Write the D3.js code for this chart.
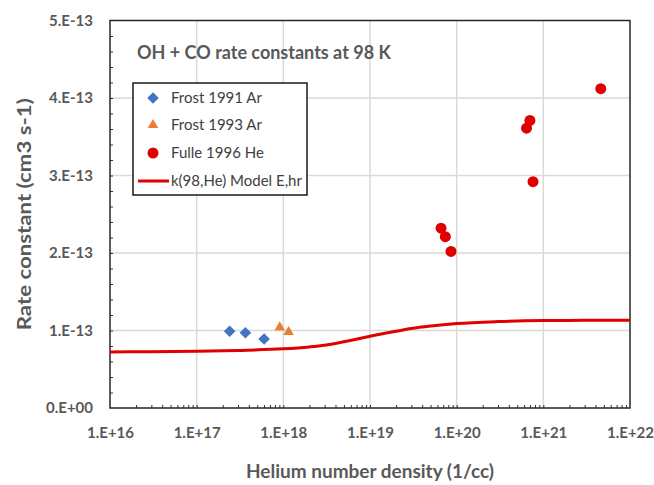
<!DOCTYPE html>
<html>
<head>
<meta charset="utf-8">
<script src="https://cdn.jsdelivr.net/npm/d3@7"></script>
<style>
  body { margin: 0; background: #fff; }
  svg { display: block; font-family: Lato, 'Open Sans', sans-serif; }
</style>
</head>
<body>
<script>
// data
const frost1991X = [2.4e17, 3.65e17, 6.0e17]
const frost1991Y = [0.99e-13, 0.97e-13, 0.89e-13]
const frost1993X = [9.1e17, 1.15e18]
const frost1993Y = [1.04e-13, 0.98e-13]
const fulleX = [6.6e19, 7.4e19, 8.6e19, 6.4e20, 7.0e20, 7.6e20, 4.6e21]
const fulleY = [2.32e-13, 2.21e-13, 2.02e-13, 3.61e-13, 3.71e-13, 2.92e-13, 4.12e-13]
const modelX = [1e16, 3e16, 1e17, 3e17, 1e18, 2e18, 3e18, 5e18, 1e19, 2e19, 3e19, 5e19,
  1e20, 3e20, 1e21, 3e21, 1e22]
const modelY = [0.724e-13, 0.726e-13, 0.732e-13, 0.743e-13, 0.763e-13, 0.788e-13, 0.81e-13,
  0.855e-13, 0.925e-13, 0.99e-13, 1.025e-13, 1.057e-13, 1.089e-13, 1.115e-13, 1.128e-13,
  1.131e-13, 1.132e-13]
const xTicks = [1e16, 1e17, 1e18, 1e19, 1e20, 1e21, 1e22]
const yTicks = [0, 1e-13, 2e-13, 3e-13, 4e-13, 5e-13]
const legendLabels = ['Frost 1991 Ar', 'Frost 1993 Ar', 'Fulle 1996 He', 'k(98,He) Model E,hr']

const width = 654
const height = 485
const margin = { top: 20.5, right: 24, bottom: 77, left: 110 }
const blue = '#4472c4'
const orange = '#ed7d31'
const red = '#e00000'
const textGray = '#595959'

const x = d3.scaleLog().domain([1e16, 1e22]).range([margin.left, width - margin.right])
const y = d3.scaleLinear().domain([0, 5e-13]).range([height - margin.bottom, margin.top])

const fmtX = (d) => '1.E+' + Math.round(Math.log10(d))
const fmtY = (d) => (d === 0 ? '0.E+00' : Math.round(d / 1e-13) + '.E-13')

const svg = d3.select('body').append('svg').attr('width', width).attr('height', height)

// gridlines
const grid = svg.append('g').attr('stroke', '#d9d9d9').attr('stroke-width', 1.5)
grid.selectAll('.gx')
  .data(xTicks.slice(1, -1))
  .join('line')
  .attr('x1', (d) => x(d)).attr('x2', (d) => x(d))
  .attr('y1', y(0)).attr('y2', y(5e-13))
grid.selectAll('.gy')
  .data(yTicks.slice(1, -1))
  .join('line')
  .attr('x1', x(1e16)).attr('x2', x(1e22))
  .attr('y1', (d) => y(d)).attr('y2', (d) => y(d))

// minor ticks, inside
const minorX = []
for (let e = 16; e < 22; e++) for (let m = 1; m < 10; m++) minorX.push(m * Math.pow(10, e))
svg.append('g')
  .attr('transform', `translate(0,${y(0)})`)
  .call(d3.axisTop(x).tickValues(minorX.slice(1)).tickSize(3).tickFormat(''))
  .call((g) => g.select('.domain').remove())
  .selectAll('line').attr('stroke', '#333')

svg.append('g')
  .attr('transform', `translate(${x(1e16)},0)`)
  .call(d3.axisRight(y).tickValues(d3.range(1, 25).map((i) => i * 0.2e-13)).tickSize(3).tickFormat(''))
  .call((g) => g.select('.domain').remove())
  .selectAll('line').attr('stroke', '#333')

// tick labels
svg.append('g')
  .attr('transform', `translate(0,${y(0)})`)
  .call(d3.axisBottom(x).tickValues(xTicks).tickSize(0).tickPadding(19).tickFormat(fmtX))
  .call((g) => g.select('.domain').remove())
  .selectAll('text')
  .attr('font-family', 'Lato, sans-serif')
  .attr('font-size', 15).attr('font-weight', 'bold').attr('fill', textGray)

svg.append('g')
  .attr('transform', `translate(${x(1e16)},0)`)
  .call(d3.axisLeft(y).tickValues(yTicks).tickSize(0).tickPadding(17).tickFormat(fmtY))
  .call((g) => g.select('.domain').remove())
  .selectAll('text')
  .attr('font-family', 'Lato, sans-serif')
  .attr('font-size', 15).attr('font-weight', 'bold').attr('fill', textGray)

// frame
svg.append('rect')
  .attr('x', x(1e16)).attr('y', y(5e-13))
  .attr('width', x(1e22) - x(1e16)).attr('height', y(0) - y(5e-13))
  .attr('fill', 'none').attr('stroke', '#262626').attr('stroke-width', 1.5)

// model curve
const line = d3.line().curve(d3.curveMonotoneX).x((d) => x(d[0])).y((d) => y(d[1]))
svg.append('path')
  .datum(modelX.map((d, i) => [d, modelY[i]]))
  .attr('fill', 'none').attr('stroke', red).attr('stroke-width', 3)
  .attr('d', line)

const diamond = d3.symbol().type(d3.symbolDiamond2).size(85)
const triangle = d3.symbol().type(d3.symbolTriangle2).size(80)

svg.append('g').selectAll('path')
  .data(frost1991X.map((d, i) => [d, frost1991Y[i]]))
  .join('path')
  .attr('transform', (d) => `translate(${x(d[0])},${y(d[1])})`)
  .attr('d', diamond).attr('fill', blue)

svg.append('g').selectAll('path')
  .data(frost1993X.map((d, i) => [d, frost1993Y[i]]))
  .join('path')
  .attr('transform', (d) => `translate(${x(d[0])},${y(d[1])})`)
  .attr('d', triangle).attr('fill', orange)

svg.append('g').selectAll('circle')
  .data(fulleX.map((d, i) => [d, fulleY[i]]))
  .join('circle')
  .attr('cx', (d) => x(d[0])).attr('cy', (d) => y(d[1]))
  .attr('r', 5.5).attr('fill', red)

// chart title inside plot
svg.append('text')
  .attr('x', 137).attr('y', 59)
  .attr('font-size', 18).attr('font-weight', 'bold').attr('fill', textGray)
  .text('OH + CO rate constants at 98 K')

// legend
const legend = svg.append('g').attr('transform', 'translate(133,83)')
legend.append('rect')
  .attr('width', 174).attr('height', 112)
  .attr('fill', '#fff').attr('stroke', '#1a1a1a').attr('stroke-width', 1.5)
const rowY = [15, 42, 70, 98]
legend.append('path').attr('transform', `translate(20,${rowY[0]})`).attr('d', diamond).attr('fill', blue)
legend.append('path').attr('transform', `translate(20,${rowY[1]})`).attr('d', triangle).attr('fill', orange)
legend.append('circle').attr('cx', 20).attr('cy', rowY[2]).attr('r', 5.5).attr('fill', red)
legend.append('line')
  .attr('x1', 5).attr('x2', 36).attr('y1', rowY[3]).attr('y2', rowY[3])
  .attr('stroke', red).attr('stroke-width', 3)
legend.selectAll('.lab')
  .data(legendLabels)
  .join('text')
  .attr('x', 38)
  .attr('y', (d, i) => rowY[i])
  .attr('dy', '0.35em')
  .attr('font-size', 15).attr('fill', '#404040')
  .text((d) => d)

// axis titles
svg.append('text')
  .attr('x', (x(1e16) + x(1e22)) / 2).attr('y', 478)
  .attr('text-anchor', 'middle')
  .attr('font-size', 19).attr('font-weight', 'bold').attr('fill', textGray)
  .text('Helium number density (1/cc)')

svg.append('text')
  .attr('transform', `translate(31,${(y(0) + y(5e-13)) / 2}) rotate(-90)`)
  .attr('text-anchor', 'middle')
  .attr('font-size', 19).attr('font-weight', 'bold').attr('fill', textGray)
  .attr('textLength', 232).attr('lengthAdjust', 'spacingAndGlyphs')
  .text('Rate constant (cm3 s-1)')
</script>
</body>
</html>
